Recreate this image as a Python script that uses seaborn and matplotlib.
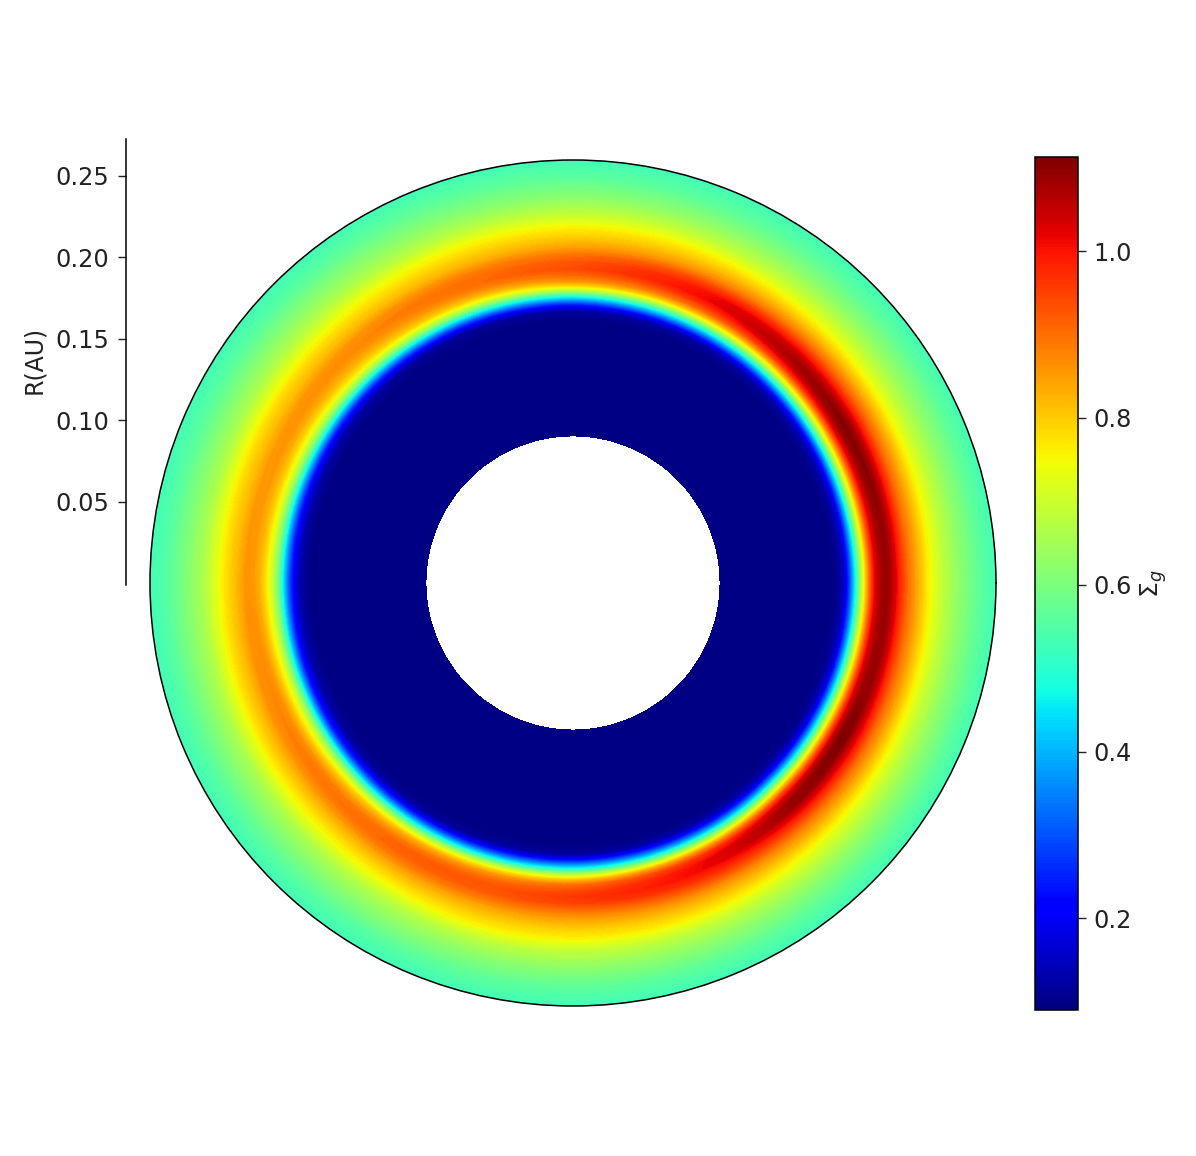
import numpy as np
import matplotlib
matplotlib.use("Agg")
import matplotlib.pyplot as plt
import seaborn as sns
from matplotlib.cm import ScalarMappable
from matplotlib.colors import Normalize
from matplotlib.path import Path

# values
radius_au = [0.0902, 0.1564, 0.1626, 0.1669, 0.1699, 0.1730, 0.1761, 0.1791, 0.1822, 0.1853, 0.1890,
             0.1926, 0.1963, 0.2006, 0.2055, 0.2117, 0.2178, 0.2258, 0.2362, 0.2485, 0.2626]
azimuth_deg = [0, 15, 30, 45, 60, 75, 90, 105, 120, 135, 150, 165,
               180, 195, 210, 225, 240, 255, 270, 285, 300, 315, 330, 345]
sigma_g = [
    [.095, .095, .105, .16, .29, .45, .62, .77, .91, 1.02, 1.075, 1.09, 1.05, .975, .90, .83, .76, .69, .625, .565, .52],
    [.095, .095, .105, .155, .285, .445, .615, .76, .90, 1.01, 1.08, 1.10, 1.06, .98, .90, .83, .76, .69, .625, .565, .52],
    [.095, .095, .105, .15, .27, .43, .60, .75, .89, 1.01, 1.09, 1.11, 1.07, .99, .91, .83, .76, .69, .625, .565, .52],
    [.095, .095, .10, .14, .26, .41, .57, .72, .86, .97, 1.05, 1.08, 1.05, .98, .90, .82, .755, .69, .62, .56, .52],
    [.095, .095, .10, .13, .24, .38, .54, .69, .82, .92, .99, 1.03, 1.02, .96, .88, .81, .755, .685, .62, .56, .52],
    [.095, .095, .10, .12, .22, .36, .51, .66, .79, .88, .94, .98, .97, .93, .86, .805, .76, .69, .62, .56, .52],
    [.095, .095, .10, .12, .20, .34, .49, .65, .78, .86, .91, .94, .93, .90, .85, .80, .76, .69, .62, .56, .52],
    [.095, .095, .10, .115, .19, .32, .47, .62, .74, .82, .88, .91, .905, .88, .83, .79, .75, .68, .615, .56, .52],
    [.095, .095, .10, .11, .18, .30, .45, .60, .72, .80, .85, .88, .89, .87, .82, .78, .74, .67, .615, .56, .52],
    [.095, .095, .10, .115, .175, .28, .42, .57, .69, .77, .82, .85, .87, .86, .82, .78, .735, .67, .615, .555, .52],
    [.095, .095, .10, .12, .17, .26, .40, .54, .66, .74, .80, .84, .86, .855, .82, .785, .735, .665, .61, .555, .52],
    [.095, .095, .10, .125, .165, .25, .37, .51, .63, .72, .79, .83, .855, .855, .82, .785, .735, .665, .61, .555, .52],
    [.095, .095, .10, .125, .165, .25, .37, .51, .63, .71, .78, .83, .855, .86, .825, .785, .735, .665, .61, .555, .52],
    [.095, .095, .10, .125, .165, .25, .38, .52, .65, .73, .80, .85, .87, .865, .825, .785, .735, .665, .61, .555, .52],
    [.095, .095, .10, .12, .17, .26, .40, .55, .67, .75, .82, .87, .885, .87, .83, .785, .735, .665, .61, .555, .52],
    [.095, .095, .10, .11, .175, .28, .42, .57, .70, .79, .85, .89, .90, .875, .83, .78, .735, .665, .61, .555, .52],
    [.095, .095, .10, .11, .18, .30, .45, .61, .74, .83, .89, .92, .915, .885, .835, .785, .74, .67, .615, .555, .52],
    [.095, .095, .10, .12, .20, .33, .48, .65, .78, .86, .91, .93, .925, .89, .84, .795, .755, .68, .615, .56, .52],
    [.095, .095, .10, .12, .22, .36, .51, .68, .81, .90, .94, .96, .95, .90, .85, .80, .76, .685, .62, .56, .52],
    [.095, .095, .10, .13, .24, .38, .54, .71, .85, .94, .98, .99, .97, .92, .86, .805, .76, .685, .62, .56, .52],
    [.095, .095, .10, .14, .26, .41, .58, .74, .88, .98, 1.03, 1.03, .99, .94, .87, .81, .755, .685, .62, .56, .52],
    [.095, .095, .105, .17, .31, .47, .65, .80, .94, 1.04, 1.09, 1.09, 1.03, .96, .89, .82, .755, .69, .62, .56, .52],
    [.095, .095, .105, .17, .31, .47, .65, .80, .94, 1.05, 1.11, 1.11, 1.05, .98, .90, .83, .76, .69, .625, .565, .52],
    [.095, .095, .105, .165, .30, .46, .63, .78, .92, 1.03, 1.08, 1.09, 1.05, .97, .90, .83, .76, .69, .625, .565, .52],
]
r_ticks = [0.05, 0.10, 0.15, 0.20, 0.25]
cbar_ticks = [0.2, 0.4, 0.6, 0.8, 1.0]

W, H = 1196, 1156

sns.set_theme(
    style="ticks",
    rc={
        "font.size": 17.3,
        "text.color": "black",
        "axes.labelcolor": "#222222",
        "xtick.color": "#222222",
        "ytick.color": "#222222",
        "axes.edgecolor": "black",
    },
)


def fig_box(x0, y0, x1, y1):
    return [x0 / W, 1 - y1 / H, (x1 - x0) / W, (y1 - y0) / H]


fig = plt.figure(figsize=(W / 100, H / 100), dpi=100)

# seaborn refuses the name "jet", so it comes from matplotlib
jet = matplotlib.colormaps["jet"]
norm = Normalize(vmin=0.09, vmax=1.113)

# close the ring by repeating the first row at 360 deg
theta = np.deg2rad(azimuth_deg + [360])
sigma = np.array(sigma_g + [sigma_g[0]]).T

ax = fig.add_axes(fig_box(150, 160, 996, 1006), projection="polar")
cs = ax.contourf(theta, radius_au, sigma, levels=np.linspace(0.09, 1.113, 220), cmap=jet, norm=norm)
# let the polar transform bend the contour edges instead of drawing chords;
# CLOSEPOLY segments never get bent, so they become plain line segments
for path in cs.get_paths():
    if path.codes is None:
        continue
    codes = path.codes.copy()
    codes[codes == Path.CLOSEPOLY] = Path.LINETO
    path.codes = codes
    path._interpolation_steps = 10
ax.set_ylim(0, 0.2595)
ax.grid(False)
ax.set_yticks([])
ax.set_xticks([np.pi / 2])
ax.set_xticklabels([""])
ax.tick_params(axis="x", length=2, width=1, color="black")
ax.spines["polar"].set_linewidth(1.1)

# detached radius axis on the left
r_ax = fig.add_axes(fig_box(126, 139, 130, 585))
r_ax.set_ylim(-0.001, 0.2725)
r_ax.set_xticks([])
r_ax.set_yticks(r_ticks)
r_ax.set_yticklabels([f"{t:.2f}" for t in r_ticks])
r_ax.tick_params(axis="y", length=6, width=1, pad=6, labelsize=17.3)
r_ax.set_ylabel("R(AU)", fontsize=17)
r_ax.yaxis.set_label_coords(-80 / 4, 0.505)
sns.despine(ax=r_ax, top=True, right=True, bottom=True)
r_ax.patch.set_visible(False)
r_ax.spines["left"].set_linewidth(1.1)

cax = fig.add_axes(fig_box(1035, 157, 1078, 1010))
cbar = fig.colorbar(ScalarMappable(norm=norm, cmap=jet), cax=cax)
cbar.set_ticks(cbar_ticks)
cbar.ax.tick_params(length=6, width=1, pad=5, labelsize=17.3)
cbar.outline.set_linewidth(1.1)
cbar.set_label(r"$\Sigma_g$", fontsize=18, labelpad=5)

fig.savefig("out.png", dpi=100)
